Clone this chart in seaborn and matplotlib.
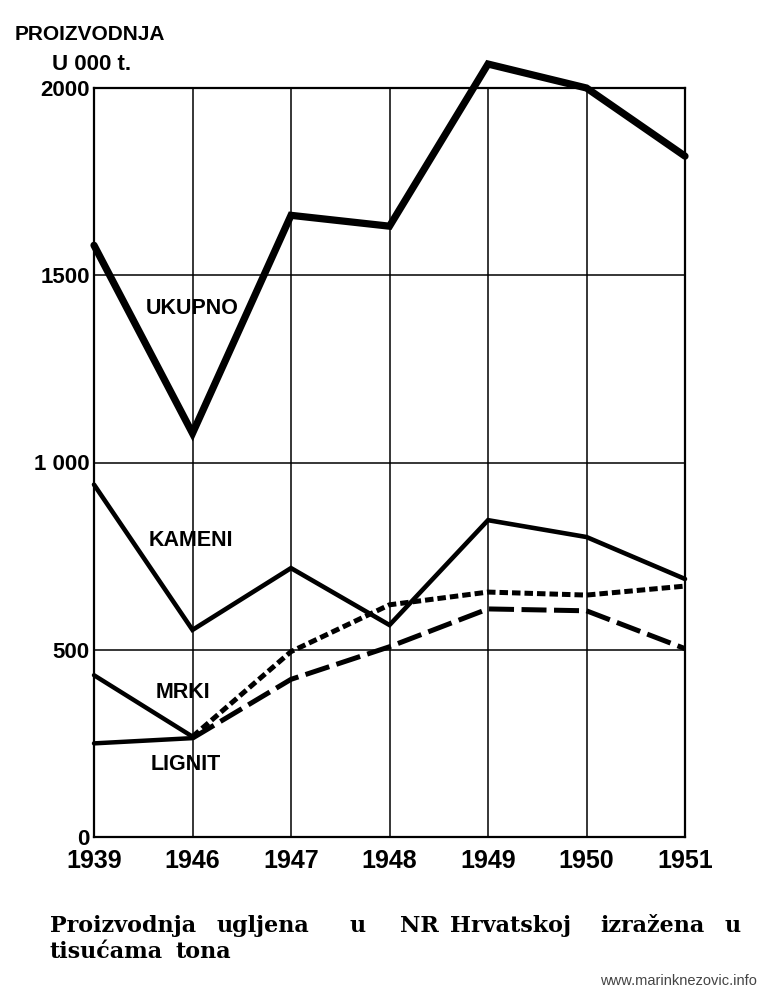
import numpy as np
import pandas as pd
import matplotlib
matplotlib.use("Agg")
import matplotlib.pyplot as plt
import seaborn as sns

# ---- data (thousand tonnes) ----
years = ["1939", "1946", "1947", "1948", "1949", "1950", "1951"]
ukupno = [1580, 1078, 1660, 1631, 2064, 2000, 1818]
kameni = [941, 553, 718, 566, 846, 801, 689]
mrki = [432, 268, 495, 620, 654, 646, 670]
lignit = [250, 264, 421, 508, 609, 604, 503]
y_ticks = [0, 500, 1000, 1500, 2000]
y_tick_labels = ["0", "500", "1 000", "1500", "2000"]
series_labels = ["UKUPNO", "KAMENI", "MRKI", "LIGNIT"]

sns.set_style("white")
plt.rcParams["font.family"] = ["Liberation Sans", "DejaVu Sans"]
plt.rcParams["text.color"] = "black"

W, H = 767, 1000
fig = plt.figure(figsize=(W / 100, H / 100), dpi=100)
fig.patch.set_facecolor("white")
L, R, T, B = 94, 685, 88, 837
ax = fig.add_axes([L / W, 1 - B / H, (R - L) / W, (B - T) / H])
ax.set_facecolor("white")

pos = np.arange(len(years))
df = pd.DataFrame({"pos": pos, "ukupno": ukupno, "kameni": kameni,
                   "mrki": mrki, "lignit": lignit})

short_dash = (0, (1.7, 0.8))
long_dash = (0, (5.0, 1.5))

sns.lineplot(data=df, x="pos", y="ukupno", ax=ax, color="black", lw=5.2,
             solid_joinstyle="miter", clip_on=False)
sns.lineplot(data=df, x="pos", y="kameni", ax=ax, color="black", lw=3.3,
             solid_joinstyle="miter", clip_on=False)
sns.lineplot(data=df.iloc[:2], x="pos", y="mrki", ax=ax, color="black", lw=3.2,
             clip_on=False)
sns.lineplot(data=df.iloc[:2], x="pos", y="lignit", ax=ax, color="black", lw=3.2,
             clip_on=False)
sns.lineplot(data=df.iloc[1:], x="pos", y="mrki", ax=ax, color="black", lw=3.6,
             linestyle=short_dash, clip_on=False)
sns.lineplot(data=df.iloc[1:], x="pos", y="lignit", ax=ax, color="black", lw=3.6,
             linestyle=long_dash, clip_on=False)

ax.set_xlim(0, len(years) - 1)
ax.set_ylim(0, 2000)
ax.set_xticks(pos)
ax.set_xticklabels(years, fontsize=18, fontweight="bold")
ax.set_yticks(y_ticks)
ax.set_yticklabels(y_tick_labels, fontsize=16, fontweight="bold")
ax.tick_params(axis="both", length=0, colors="black")
ax.tick_params(axis="x", pad=9)
ax.tick_params(axis="y", pad=3)
ax.set_xlabel("")
ax.set_ylabel("")
ax.grid(True, color="black", lw=1.1)
for s in ax.spines.values():
    s.set_visible(True)
    s.set_color("black")
    s.set_linewidth(1.6)
ax.set_axisbelow(True)

# series labels
lab_pos = [(192, 308), (191, 540), (183, 692), (186, 765)]
for txt, (px, py) in zip(series_labels, lab_pos):
    fig.text(px / W, 1 - py / H, txt, ha="center", va="center",
             fontsize=15.5, fontweight="bold", color="black")

# axis title
fig.text(90 / W, 1 - 34 / H, "PROIZVODNJA", ha="center", va="center",
         fontsize=15, fontweight="bold")
fig.text(92 / W, 1 - 65 / H, "U 000 t.", ha="center", va="center",
         fontsize=16, fontweight="bold")

# caption (justified words)
line1 = [("Proizvodnja", 50), ("ugljena", 217), ("u", 350), ("NR", 400),
         ("Hrvatskoj", 450), ("izražena", 600), ("u", 725)]
line2 = [("tisućama", 50), ("tona", 176)]
for word, px in line1:
    fig.text(px / W, 1 - 932 / H, word, ha="left", va="baseline",
             fontsize=16, fontweight="bold", family=["DejaVu Serif"])
for word, px in line2:
    fig.text(px / W, 1 - 958 / H, word, ha="left", va="baseline",
             fontsize=16, fontweight="bold", family=["DejaVu Serif"])

fig.text(757 / W, 1 - 981 / H, "www.marinknezovic.info", ha="right", va="center",
         fontsize=10.5, color="#444444", family=["Liberation Sans", "DejaVu Sans"])

fig.savefig("out.png", dpi=100, facecolor="white")
